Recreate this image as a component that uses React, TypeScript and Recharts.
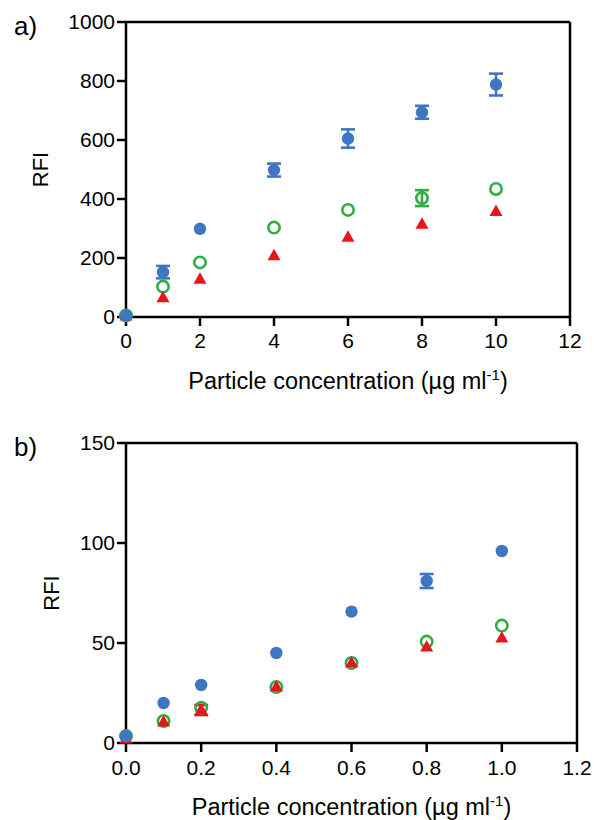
import {
  ScatterChart,
  Scatter,
  XAxis,
  YAxis,
  ErrorBar,
  ReferenceLine,
} from "recharts";

const FONT = "'Liberation Sans', Arial, Helvetica, sans-serif";
const BLUE = "#3f76c2";
const GREEN = "#2fae48";
const RED = "#e8161c";

// panel a
const concA = [0, 1, 2, 4, 6, 8, 10];
const blueA = [5, 152, 299, 498, 605, 694, 788];
const blueAErr = [0, 21, 0, 22, 31, 22, 37];
const greenA = [5, 103, 185, 303, 363, 403, 434];
const greenAErr = [0, 0, 0, 0, 0, 27, 0];
const redA = [3, 65, 128, 208, 270, 314, 358];
const ticksXA = [0, 2, 4, 6, 8, 10, 12];
const ticksYA = [0, 200, 400, 600, 800, 1000];

// panel b
const concB = [0, 0.1, 0.2, 0.4, 0.6, 0.8, 1.0];
const blueB = [3.5, 20, 29, 45, 65.7, 81, 96];
const blueBErr = [0, 0, 0, 0, 0, 3.5, 0];
const greenB = [3.5, 11, 17.6, 28, 40, 50.7, 58.7];
const redB = [2, 10.5, 16.5, 28, 40, 48, 52.5];
const redBErr = [0, 0, 2.5, 0, 0, 0, 0];
const ticksXB = [0, 0.2, 0.4, 0.6, 0.8, 1.0, 1.2];
const ticksYB = [0, 50, 100, 150];

const rows = (xs: number[], ys: number[], errs?: number[]) =>
  xs.map((x, i) => ({ x, y: ys[i], err: errs ? errs[i] : 0 }));

const Dot = (p: any) => <circle cx={p.cx} cy={p.cy} r={6.2} fill={BLUE} />;
const Ring = (p: any) => (
  <circle cx={p.cx} cy={p.cy} r={5.7} fill="none" stroke={GREEN} strokeWidth={2.6} />
);
const Tri = (p: any) => (
  <path
    d={`M${p.cx},${p.cy - 7}L${p.cx + 6.5},${p.cy + 4.5}L${p.cx - 6.5},${p.cy + 4.5}Z`}
    fill={RED}
  />
);

const tick = { fontSize: 21, fontFamily: FONT, fill: "#000" };
const axisLine = { stroke: "#000", strokeWidth: 2.5 };

const xTitle = (props: any) => {
  const { x, y, width } = props.viewBox;
  return (
    <text
      x={x + width / 2}
      y={y + 72}
      textAnchor="middle"
      fontSize={23.5}
      fontFamily={FONT}
      fill="#000"
    >
      Particle concentration (µg ml
      <tspan dy={-9} fontSize={15}>
        -1
      </tspan>
      <tspan dy={9}>)</tspan>
    </text>
  );
};

const yTitle = (cx: number, panel: string, panelY: number) => (props: any) => {
  const { y, height } = props.viewBox;
  const cy = y + height / 2;
  return (
    <g>
      <text
        x={cx}
        y={cy}
        transform={`rotate(-90 ${cx} ${cy})`}
        textAnchor="middle"
        dominantBaseline="central"
        fontSize={22}
        fontFamily={FONT}
        fill="#000"
      >
        RFI
      </text>
      <text x={14} y={panelY} fontSize={26} fontFamily={FONT} fill="#000">
        {panel}
      </text>
    </g>
  );
};

export default function App() {
  return (
    <div style={{ position: "absolute", left: 0, top: 0, width: 594, height: 820, background: "#fff" }}>
      <ScatterChart width={594} height={400} margin={{ top: 22, right: 24, left: 0, bottom: 3 }}>
        <XAxis
          type="number"
          dataKey="x"
          domain={[0, 12]}
          ticks={ticksXA}
          tick={tick}
          tickSize={9}
          tickMargin={7}
          axisLine={axisLine}
          tickLine={axisLine}
          height={80}
          label={{ content: xTitle }}
        />
        <YAxis
          type="number"
          dataKey="y"
          domain={[0, 1000]}
          ticks={ticksYA}
          tick={tick}
          tickSize={9}
          tickMargin={2}
          axisLine={axisLine}
          tickLine={axisLine}
          width={126}
          label={{ content: yTitle(40, "a)", 35) }}
        />
        <ReferenceLine y={1000} stroke="#000" strokeWidth={2.5} />
        <ReferenceLine x={12} stroke="#000" strokeWidth={2.5} />
        <Scatter data={rows(concA, greenA, greenAErr)} shape={Ring} isAnimationActive={false}>
          <ErrorBar dataKey="err" direction="y" width={7} stroke={GREEN} strokeWidth={2.6} />
        </Scatter>
        <Scatter data={rows(concA, redA)} shape={Tri} isAnimationActive={false} />
        <Scatter data={rows(concA, blueA, blueAErr)} shape={Dot} isAnimationActive={false}>
          <ErrorBar dataKey="err" direction="y" width={7} stroke={BLUE} strokeWidth={2.6} />
        </Scatter>
      </ScatterChart>
      <ScatterChart width={594} height={420} margin={{ top: 43, right: 17, left: 0, bottom: 0 }}>
        <XAxis
          type="number"
          dataKey="x"
          domain={[0, 1.2]}
          ticks={ticksXB}
          tickFormatter={(v: number) => v.toFixed(1)}
          tick={tick}
          tickSize={9}
          tickMargin={8}
          axisLine={axisLine}
          tickLine={axisLine}
          height={77}
          label={{ content: xTitle }}
        />
        <YAxis
          type="number"
          dataKey="y"
          domain={[0, 150]}
          ticks={ticksYB}
          tick={tick}
          tickSize={9}
          tickMargin={2}
          axisLine={axisLine}
          tickLine={axisLine}
          width={126}
          label={{ content: yTitle(51, "b)", 56) }}
        />
        <ReferenceLine y={150} stroke="#000" strokeWidth={2.5} />
        <ReferenceLine x={1.2} stroke="#000" strokeWidth={2.5} />
        <Scatter data={rows(concB, greenB)} shape={Ring} isAnimationActive={false} />
        <Scatter data={rows(concB, redB, redBErr)} shape={Tri} isAnimationActive={false}>
          <ErrorBar dataKey="err" direction="y" width={7} stroke={RED} strokeWidth={2.6} />
        </Scatter>
        <Scatter data={rows(concB, blueB, blueBErr)} shape={Dot} isAnimationActive={false}>
          <ErrorBar dataKey="err" direction="y" width={7} stroke={BLUE} strokeWidth={2.6} />
        </Scatter>
      </ScatterChart>
    </div>
  );
}
